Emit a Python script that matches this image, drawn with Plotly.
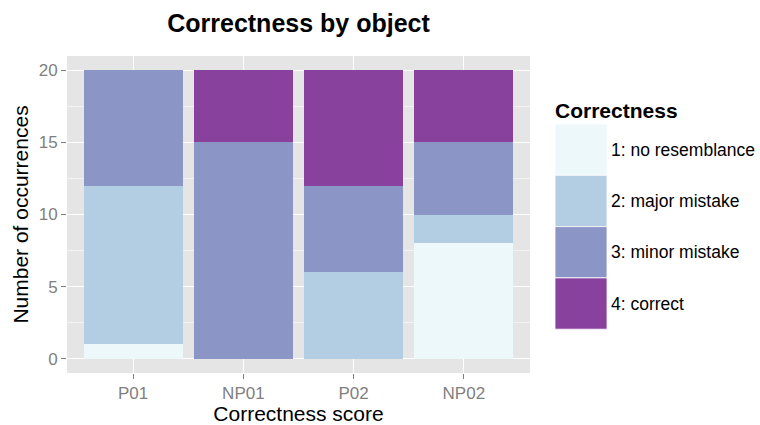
import plotly.graph_objects as go

# Objects and counts per correctness level
objects = ["P01", "NP01", "P02", "NP02"]
levels = ["1: no resemblance", "2: major mistake", "3: minor mistake", "4: correct"]
no_resemblance = [1, 0, 0, 8]
major_mistake = [11, 0, 6, 2]
minor_mistake = [8, 15, 6, 5]
correct = [0, 5, 8, 5]
y_ticks = [0, 5, 10, 15, 20]

series = [no_resemblance, major_mistake, minor_mistake, correct]
colors = ["#EDF8FB", "#B3CDE3", "#8C96C6", "#88419D"]

W, H = 760, 425
L, R, T, B = 67, 230, 56, 52
font = "Liberation Sans, Arial, sans-serif"

fig = go.Figure()
for name, vals, col in zip(levels, series, colors):
    fig.add_trace(go.Bar(x=objects, y=vals, name=name, marker=dict(color=col, line=dict(width=0)),
                         showlegend=False))

fig.update_layout(
    width=W, height=H, barmode="stack", bargap=0.1,
    margin=dict(l=L, r=R, t=T, b=B),
    paper_bgcolor="white", plot_bgcolor="#E5E5E5",
    font=dict(family=font, color="black"),
    title=dict(text="<b>Correctness by object</b>", x=(L + (W - R)) / 2 / W, xanchor="center",
               y=1 - 23 / H, yanchor="middle", font=dict(size=25, color="black")),
)
fig.update_xaxes(
    range=[-0.6, 3.6], showgrid=True, gridcolor="white", gridwidth=1.2,
    ticks="outside", ticklen=5, tickcolor="#7F7F7F", tickwidth=1,
    tickfont=dict(size=17, color="#7F7F7F"), automargin=False,
    title=dict(text="Correctness score", font=dict(size=21, color="black"), standoff=0),
    zeroline=False, showline=False,
)
fig.update_yaxes(
    range=[-1, 21], tickvals=y_ticks, ticktext=[str(v) for v in y_ticks],
    showgrid=True, gridcolor="white", gridwidth=1.2,
    minor=dict(tickvals=[2.5, 7.5, 12.5, 17.5], showgrid=True, gridcolor="#F2F2F2", gridwidth=0.8, ticks=""),
    ticks="outside", ticklen=5, tickcolor="#7F7F7F", tickwidth=1,
    tickfont=dict(size=17, color="#7F7F7F"), automargin=False,
    title=dict(text="Number of occurrences", font=dict(size=21, color="black"), standoff=4),
    zeroline=False, showline=False,
)

# Legend drawn as large colour keys in pixel-based paper coordinates
pw, ph = W - L - R, H - T - B
def px_x(px):
    return (px - L) / pw
def px_y(py):
    return (H - B - py) / ph

key_x0, key_x1 = 555, 607
key_top, key_h = 124, 51.3
shapes = []
annotations = []
for i, (name, col) in enumerate(zip(levels, colors)):
    y0 = key_top + i * key_h
    y1 = y0 + key_h
    shapes.append(dict(type="rect", xref="paper", yref="paper",
                       x0=px_x(key_x0), x1=px_x(key_x1), y0=px_y(y1), y1=px_y(y0),
                       fillcolor=col, line=dict(color="white", width=0.8)))
    annotations.append(dict(xref="paper", yref="paper", x=px_x(609), y=px_y((y0 + y1) / 2),
                            text=name, showarrow=False, xanchor="left", yanchor="middle",
                            font=dict(size=17.5, color="black", family=font)))
annotations.append(dict(xref="paper", yref="paper", x=px_x(553), y=px_y(110),
                        text="<b>Correctness</b>", showarrow=False, xanchor="left", yanchor="middle",
                        font=dict(size=21, color="black", family=font)))
fig.update_layout(shapes=shapes, annotations=annotations)

fig.write_html("out.html")
